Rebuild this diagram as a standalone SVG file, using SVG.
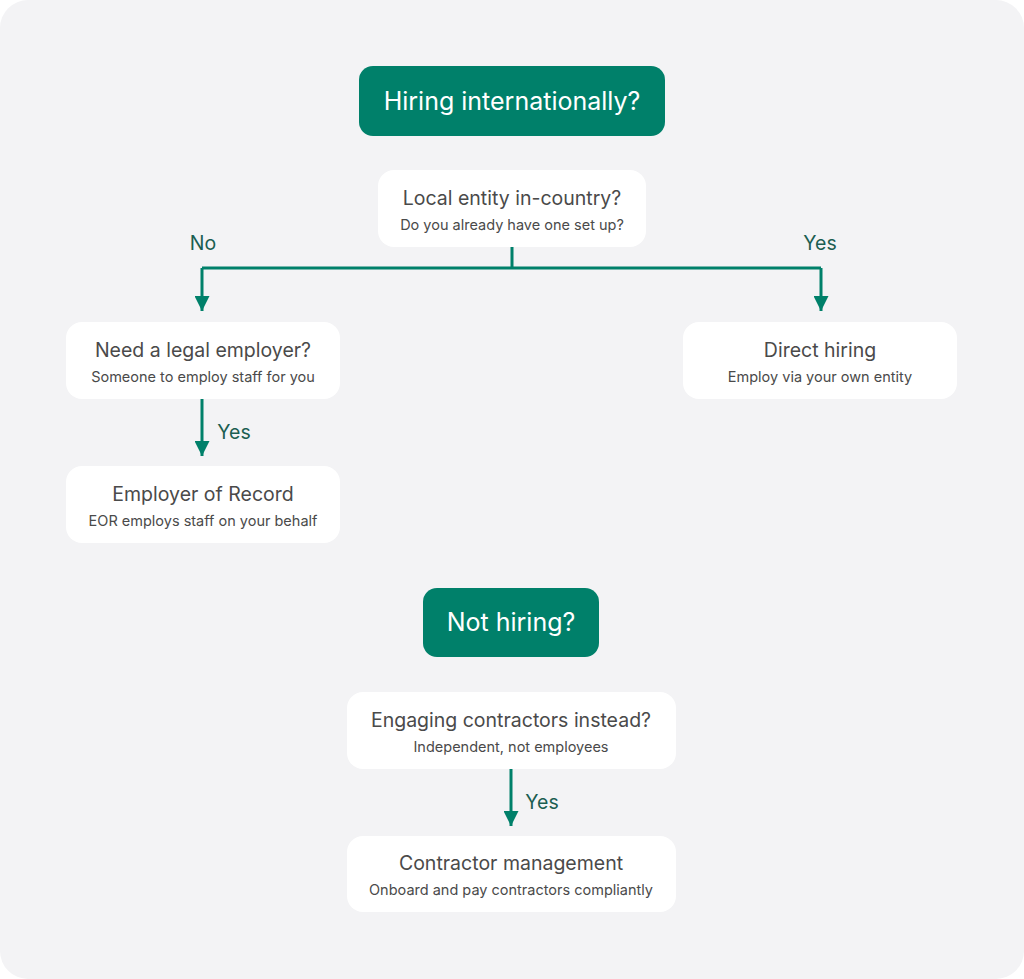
<svg xmlns="http://www.w3.org/2000/svg" width="1024" height="979" viewBox="0 0 1024 979">
<defs>
<style>
.bg{fill:#f3f3f5}
.dark{fill:#00806a}
.card{fill:#ffffff}
.dt{font-family:Inter,"Liberation Sans",sans-serif;fill:#ffffff;font-size:25px;text-anchor:middle}
.t1{font-family:Inter,"Liberation Sans",sans-serif;fill:#4a4a4a;font-size:19.5px;text-anchor:middle}
.t2{font-family:Inter,"Liberation Sans",sans-serif;fill:#4a4a4a;font-size:14.5px;text-anchor:middle}
.lbl{font-family:Inter,"Liberation Sans",sans-serif;fill:#1b5e51;font-size:19.5px;text-anchor:middle}
.ln{fill:none;stroke:#00806a;stroke-width:3}
</style>
<marker id="ah" viewBox="0 0 10 10" refX="10" refY="5" markerWidth="5" markerHeight="5" markerUnits="strokeWidth" orient="auto">
<path d="M0,0 L10,5 L0,10 z" fill="#00806a"/>
</marker>
</defs>
<rect x="0" y="0" width="1024" height="979" rx="28" class="bg"/>

<g id="connectors">
<path class="ln" d="M512,247 V268 M202,268 H821"/>
<path class="ln" d="M202,268 V311" marker-end="url(#ah)"/>
<path class="ln" d="M821,268 V311" marker-end="url(#ah)"/>
<path class="ln" d="M202,399 V456" marker-end="url(#ah)"/>
<path class="ln" d="M511,769 V826" marker-end="url(#ah)"/>
<text class="lbl" x="203" y="250">No</text>
<text class="lbl" x="820" y="250">Yes</text>
<text class="lbl" x="234" y="439">Yes</text>
<text class="lbl" x="542" y="809">Yes</text>
</g>

<g id="hiring">
<rect x="359" y="66" width="306" height="70" rx="14" class="dark"/>
<text class="dt" x="512" y="110">Hiring internationally?</text>
</g>

<g id="local-entity">
<rect x="378" y="170" width="268" height="77" rx="16" class="card"/>
<text class="t1" x="512" y="205">Local entity in-country?</text>
<text class="t2" x="512" y="230">Do you already have one set up?</text>
</g>

<g id="legal-employer">
<rect x="66" y="322" width="274" height="77" rx="16" class="card"/>
<text class="t1" x="203" y="357">Need a legal employer?</text>
<text class="t2" x="203" y="382">Someone to employ staff for you</text>
</g>

<g id="direct-hiring">
<rect x="683" y="322" width="274" height="77" rx="16" class="card"/>
<text class="t1" x="820" y="357">Direct hiring</text>
<text class="t2" x="820" y="382">Employ via your own entity</text>
</g>

<g id="eor">
<rect x="66" y="466" width="274" height="77" rx="16" class="card"/>
<text class="t1" x="203" y="501">Employer of Record</text>
<text class="t2" x="203" y="526">EOR employs staff on your behalf</text>
</g>

<g id="not-hiring">
<rect x="423" y="588" width="176" height="69" rx="14" class="dark"/>
<text class="dt" x="511" y="631">Not hiring?</text>
</g>

<g id="contractors">
<rect x="347" y="692" width="329" height="77" rx="16" class="card"/>
<text class="t1" x="511" y="727">Engaging contractors instead?</text>
<text class="t2" x="511" y="752">Independent, not employees</text>
</g>

<g id="contractor-mgmt">
<rect x="347" y="836" width="329" height="76" rx="16" class="card"/>
<text class="t1" x="511" y="870">Contractor management</text>
<text class="t2" x="511" y="895">Onboard and pay contractors compliantly</text>
</g>
</svg>
